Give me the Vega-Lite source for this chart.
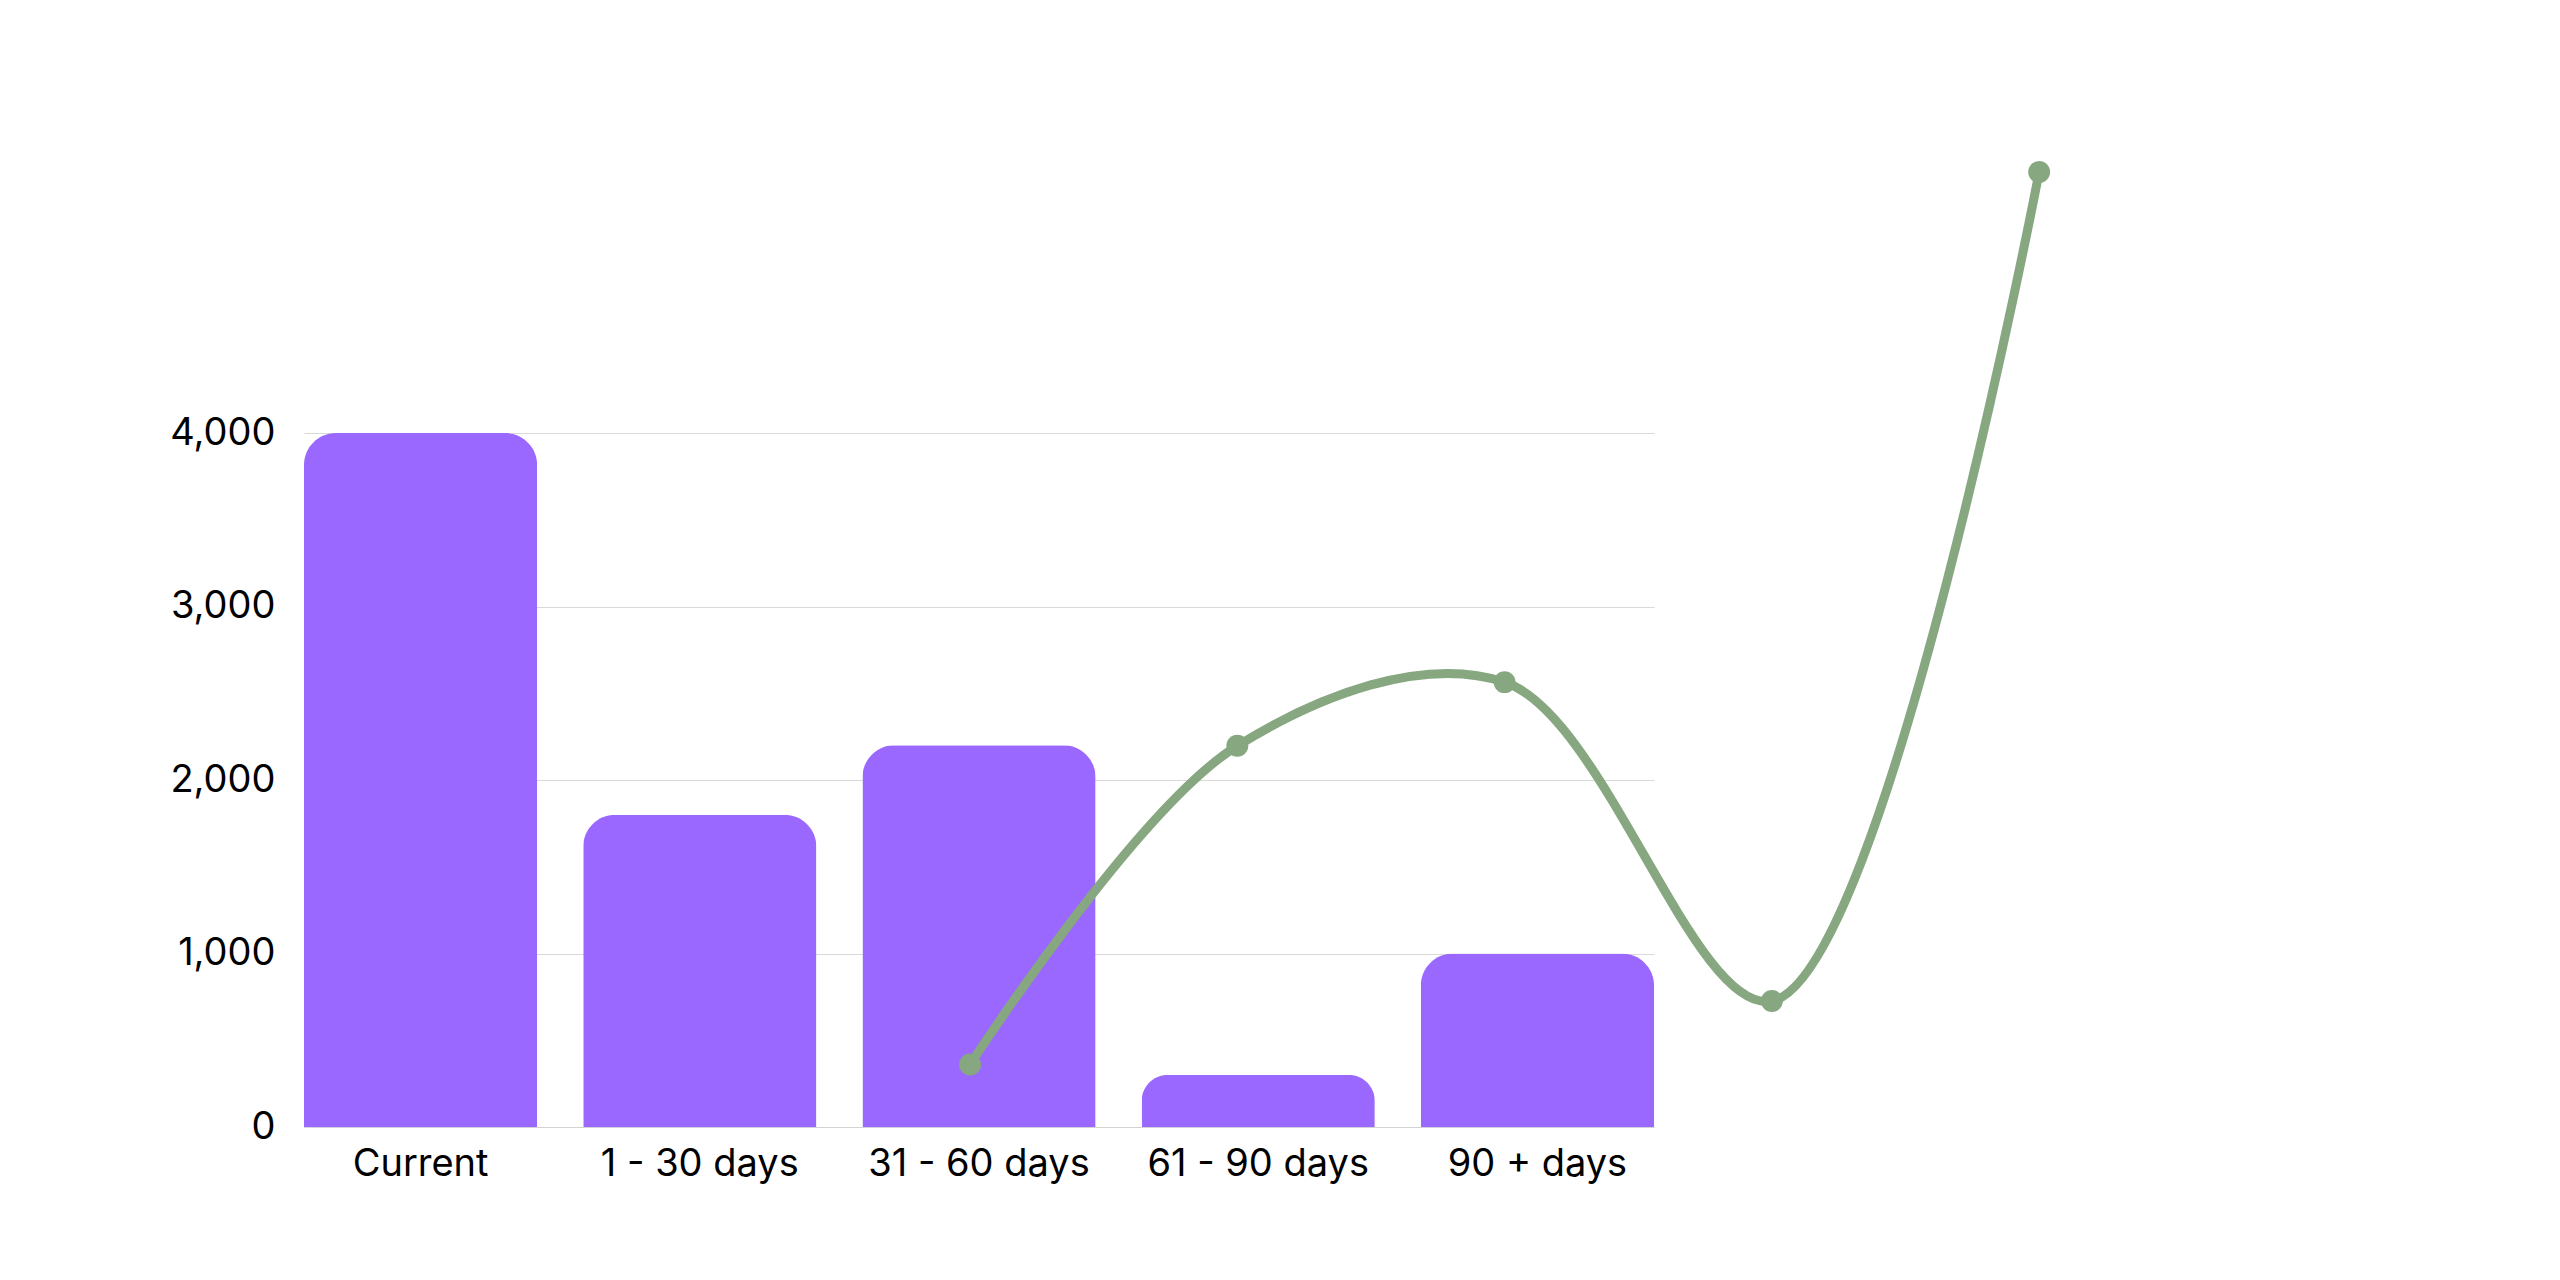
{
  "$schema": "https://vega.github.io/schema/vega-lite/v6.json",
  "autosize": "none",
  "width": 1350,
  "height": 694,
  "padding": {"left": 304, "top": 433, "right": 906, "bottom": 153},
  "background": "white",
  "config": {
    "view": {"stroke": null},
    "font": "Inter"
  },
  "datasets": {
    "bars": [
      {"bucket": "Current", "amount": 4000},
      {"bucket": "1 - 30 days", "amount": 1800},
      {"bucket": "31 - 60 days", "amount": 2200},
      {"bucket": "61 - 90 days", "amount": 300},
      {"bucket": "90 + days", "amount": 1000}
    ],
    "trend": [
      {"idx": 0, "amount": 360},
      {"idx": 1, "amount": 2197},
      {"idx": 2, "amount": 2564},
      {"idx": 3, "amount": 726},
      {"idx": 4, "amount": 5505}
    ]
  },
  "layer": [
    {
      "data": {"name": "bars"},
      "mark": {
        "type": "bar",
        "color": "#9A68FF",
        "cornerRadiusTopLeft": 32,
        "cornerRadiusTopRight": 32
      },
      "encoding": {
        "x": {
          "field": "bucket",
          "type": "nominal",
          "sort": null,
          "scale": {"paddingInner": 0.165, "paddingOuter": 0},
          "axis": {
            "title": null,
            "labelAngle": 0,
            "ticks": false,
            "grid": false,
            "domainColor": "#d3d3d3",
            "labelFontSize": 38,
            "labelPadding": 18,
            "labelLimit": 500,
            "labelColor": "#000000"
          }
        },
        "y": {
          "field": "amount",
          "type": "quantitative",
          "scale": {"domain": [0, 4000], "nice": false},
          "axis": {
            "title": null,
            "values": [0, 1000, 2000, 3000, 4000],
            "format": ",.0f",
            "domain": false,
            "ticks": false,
            "grid": true,
            "gridColor": "#d9d9d9",
            "labelPadding": 29,
            "labelFontSize": 38,
            "labelColor": "#000000"
          }
        }
      }
    },
    {
      "data": {"name": "trend"},
      "mark": {
        "type": "line",
        "interpolate": "catmull-rom",
        "color": "#86A77F",
        "strokeWidth": 9,
        "point": {"filled": true, "size": 480, "color": "#86A77F"}
      },
      "encoding": {
        "x": {
          "field": "idx",
          "type": "quantitative",
          "scale": {"domain": [-2.492, 2.559], "nice": false, "zero": false},
          "axis": null
        },
        "y": {"field": "amount", "type": "quantitative"}
      }
    }
  ],
  "resolve": {"scale": {"x": "independent"}}
}
